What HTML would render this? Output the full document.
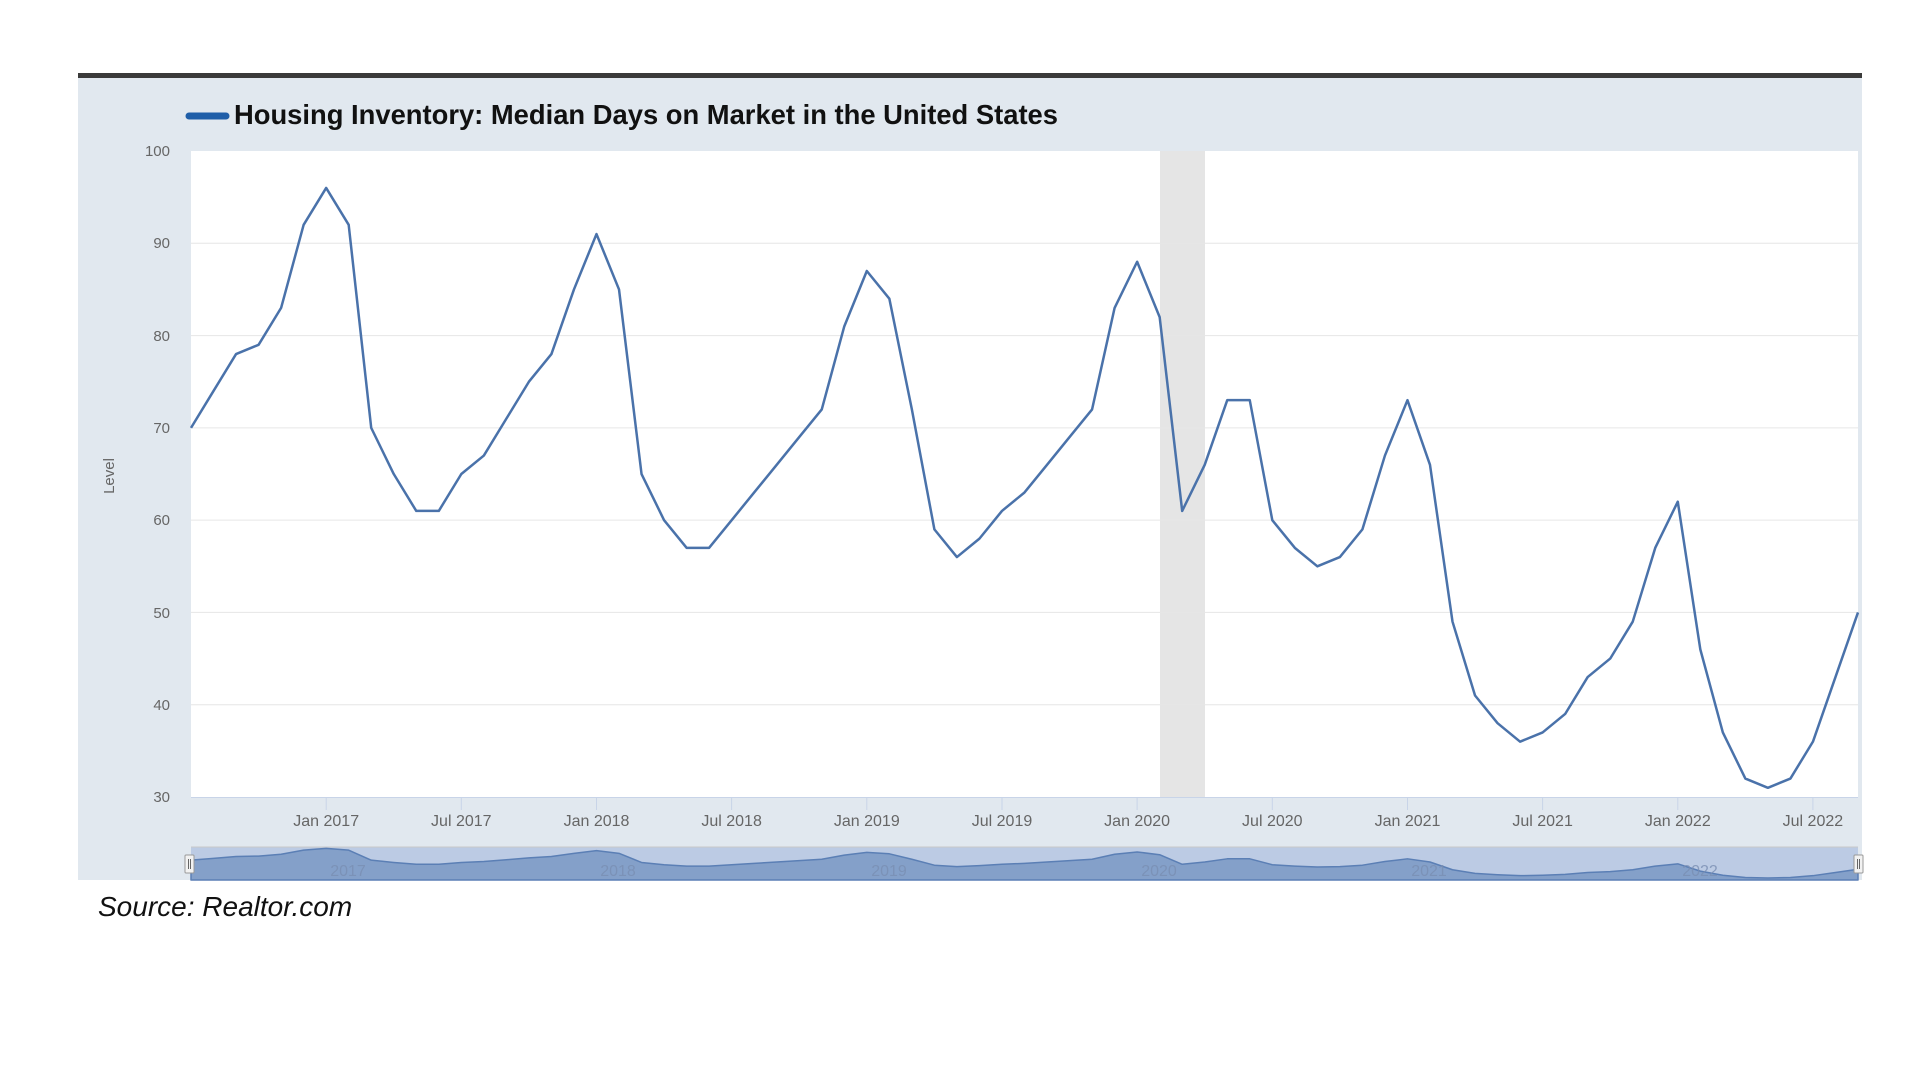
<!DOCTYPE html>
<html><head><meta charset="utf-8"><style>
html,body{margin:0;padding:0;background:#fff;width:1920px;height:1080px;overflow:hidden}
svg{display:block}
</style></head><body>
<svg width="1920" height="1080" viewBox="0 0 1920 1080" xmlns="http://www.w3.org/2000/svg" font-family="Liberation Sans, sans-serif">
<rect x="78" y="76" width="1784" height="804" fill="#e1e8ef"/>
<rect x="78" y="73" width="1784" height="5" fill="#3a3a3a"/>
<line x1="189" y1="116" x2="226" y2="116" stroke="#1f5ea8" stroke-width="7" stroke-linecap="round"/>
<text x="234" y="124" font-size="28" font-weight="bold" fill="#111" textLength="824" lengthAdjust="spacingAndGlyphs">Housing Inventory: Median Days on Market in the United States</text>
<rect x="191" y="151" width="1667" height="646" fill="#fff"/>
<rect x="1160" y="151" width="45" height="646" fill="#e5e5e5"/>
<g stroke="#e6e6e6" stroke-width="1">
<line x1="191" x2="1858" y1="243.3" y2="243.3"/><line x1="191" x2="1858" y1="335.6" y2="335.6"/>
<line x1="191" x2="1858" y1="427.9" y2="427.9"/><line x1="191" x2="1858" y1="520.1" y2="520.1"/>
<line x1="191" x2="1858" y1="612.4" y2="612.4"/><line x1="191" x2="1858" y1="704.7" y2="704.7"/>
</g>
<line x1="191" x2="1858" y1="797.5" y2="797.5" stroke="#c8d4e8"/>
<g fill="#666" font-size="15" text-anchor="end">
<text x="170" y="156">100</text><text x="170" y="248">90</text><text x="170" y="341">80</text><text x="170" y="433">70</text>
<text x="170" y="525">60</text><text x="170" y="618">50</text><text x="170" y="710">40</text><text x="170" y="802">30</text>
</g>
<text transform="translate(114,476) rotate(-90)" text-anchor="middle" font-size="15" fill="#666">Level</text>
<g stroke="#c8d4e8"><line x1="326.2" x2="326.2" y1="797" y2="810"/><line x1="461.3" x2="461.3" y1="797" y2="810"/><line x1="596.5" x2="596.5" y1="797" y2="810"/><line x1="731.6" x2="731.6" y1="797" y2="810"/><line x1="866.8" x2="866.8" y1="797" y2="810"/><line x1="1002" x2="1002" y1="797" y2="810"/><line x1="1137.1" x2="1137.1" y1="797" y2="810"/><line x1="1272.3" x2="1272.3" y1="797" y2="810"/><line x1="1407.5" x2="1407.5" y1="797" y2="810"/><line x1="1542.6" x2="1542.6" y1="797" y2="810"/><line x1="1677.8" x2="1677.8" y1="797" y2="810"/><line x1="1812.9" x2="1812.9" y1="797" y2="810"/></g>
<g fill="#666" font-size="16" text-anchor="middle">
<text x="326.2" y="826">Jan 2017</text><text x="461.3" y="826">Jul 2017</text><text x="596.5" y="826">Jan 2018</text><text x="731.6" y="826">Jul 2018</text>
<text x="866.8" y="826">Jan 2019</text><text x="1002" y="826">Jul 2019</text><text x="1137.1" y="826">Jan 2020</text><text x="1272.3" y="826">Jul 2020</text>
<text x="1407.5" y="826">Jan 2021</text><text x="1542.6" y="826">Jul 2021</text><text x="1677.8" y="826">Jan 2022</text><text x="1812.9" y="826">Jul 2022</text>
</g>
<g transform="translate(191,1073.9) scale(22.527,-9.229)">
<polyline fill="none" stroke="#4a72aa" stroke-width="2.5" vector-effect="non-scaling-stroke" stroke-linejoin="round" points="0,70 1,74 2,78 3,79 4,83 5,92 6,96 7,92 8,70 9,65 10,61 11,61 12,65 13,67 14,71 15,75 16,78 17,85 18,91 19,85 20,65 21,60 22,57 23,57 24,60 25,63 26,66 27,69 28,72 29,81 30,87 31,84 32,72 33,59 34,56 35,58 36,61 37,63 38,66 39,69 40,72 41,83 42,88 43,82 44,61 45,66 46,73 47,73 48,60 49,57 50,55 51,56 52,59 53,67 54,73 55,66 56,49 57,41 58,38 59,36 60,37 61,39 62,43 63,45 64,49 65,57 66,62 67,46 68,37 69,32 70,31 71,32 72,36 73,43 74,50"/>
</g>
<rect x="191" y="847" width="1667" height="33" fill="#bccbe4"/>
<line x1="191" x2="1858" y1="847" y2="847" stroke="#c9c9c9"/>
<g transform="translate(191,892.1) scale(22.527,-0.456)">
<polygon fill="#84a0c9" stroke="#5b7fb5" stroke-width="1.5" vector-effect="non-scaling-stroke" stroke-linejoin="round" points="0,26.5 0,70 1,74 2,78 3,79 4,83 5,92 6,96 7,92 8,70 9,65 10,61 11,61 12,65 13,67 14,71 15,75 16,78 17,85 18,91 19,85 20,65 21,60 22,57 23,57 24,60 25,63 26,66 27,69 28,72 29,81 30,87 31,84 32,72 33,59 34,56 35,58 36,61 37,63 38,66 39,69 40,72 41,83 42,88 43,82 44,61 45,66 46,73 47,73 48,60 49,57 50,55 51,56 52,59 53,67 54,73 55,66 56,49 57,41 58,38 59,36 60,37 61,39 62,43 63,45 64,49 65,57 66,62 67,46 68,37 69,32 70,31 71,32 72,36 73,43 74,50 74,26.5"/>
</g>
<g fill="#7a8fb3" font-size="16" text-anchor="middle" opacity="0.8">
<text x="348" y="876">2017</text><text x="618" y="876">2018</text><text x="889" y="876">2019</text><text x="1159" y="876">2020</text><text x="1429" y="876">2021</text><text x="1700" y="876">2022</text>
</g>
<rect x="185" y="855" width="9" height="18" fill="#f2f2f2" stroke="#999" rx="1"/>
<line x1="188.5" x2="188.5" y1="859" y2="869" stroke="#666"/><line x1="190.5" x2="190.5" y1="859" y2="869" stroke="#666"/>
<rect x="1854" y="855" width="9" height="18" fill="#f2f2f2" stroke="#999" rx="1"/>
<line x1="1857.5" x2="1857.5" y1="859" y2="869" stroke="#666"/><line x1="1859.5" x2="1859.5" y1="859" y2="869" stroke="#666"/>
<text x="98" y="916" font-size="28" font-style="italic" fill="#111">Source: Realtor.com</text>
</svg>
</body></html>
